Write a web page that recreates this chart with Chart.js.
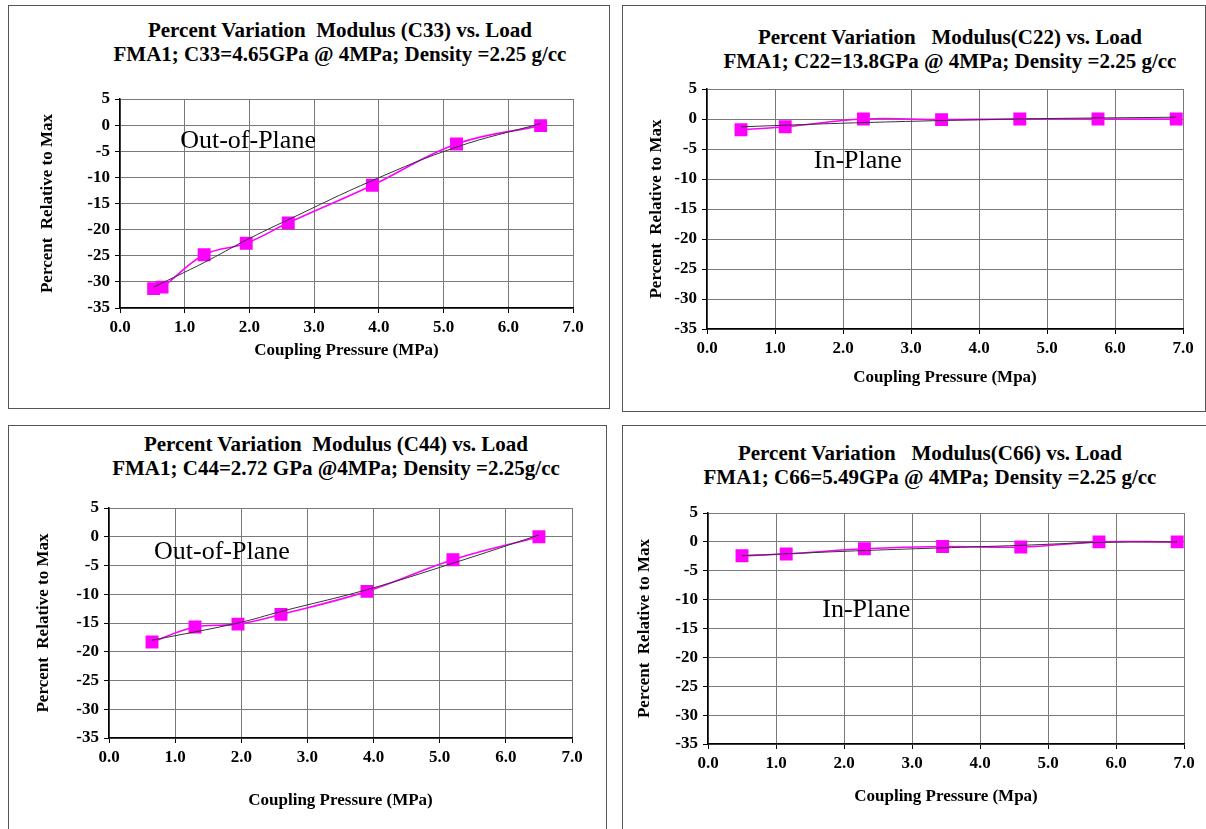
<!DOCTYPE html>
<html>
<head>
<meta charset="utf-8">
<script src="https://cdn.jsdelivr.net/npm/chart.js@4/dist/chart.umd.min.js"></script>
<style>
  html, body { margin: 0; padding: 0; background: #fff; }
  body { width: 1206px; height: 829px; position: relative; overflow: hidden; }
  .box { position: absolute; border: 1px solid #555; box-sizing: border-box; background: #fff; }
  .ttl { position: absolute; text-align: center; font-family: "Liberation Serif", "Times New Roman", serif; font-weight: bold; font-size: 21px; line-height: 24px; color: #000; white-space: nowrap; }
  canvas { position: absolute; }
</style>
</head>
<body>
<div class="box" style="left:8px;top:5px;width:602px;height:404px"></div>
<div class="box" style="left:622px;top:5px;width:584px;height:407px"></div>
<div class="box" style="left:8px;top:425px;width:599px;height:410px"></div>
<div class="box" style="left:622px;top:425px;width:590px;height:410px"></div>

<div class="ttl" style="left:40px;width:600px;top:18px">Percent Variation&nbsp; Modulus (C33) vs. Load<br>FMA1; C33=4.65GPa @ 4MPa; Density =2.25 g/cc</div>
<div class="ttl" style="left:650px;width:600px;top:25px">Percent Variation&nbsp;&nbsp; Modulus(C22) vs. Load<br>FMA1; C22=13.8GPa @ 4MPa; Density =2.25 g/cc</div>
<div class="ttl" style="left:36px;width:600px;top:432px">Percent Variation&nbsp; Modulus (C44) vs. Load<br>FMA1; C44=2.72 GPa @4MPa; Density =2.25g/cc</div>
<div class="ttl" style="left:630px;width:600px;top:441px">Percent Variation&nbsp;&nbsp; Modulus(C66) vs. Load<br>FMA1; C66=5.49GPa @ 4MPa; Density =2.25 g/cc</div>

<canvas id="c1"></canvas>
<canvas id="c2"></canvas>
<canvas id="c3"></canvas>
<canvas id="c4"></canvas>

<script>
// ---------- DATA ----------
const yTicks = [5, 0, -5, -10, -15, -20, -25, -30, -35];
const xTicks = [0, 1, 2, 3, 4, 5, 6, 7];

// C33 (out-of-plane)
const c33X = [0.52, 0.65, 1.30, 1.95, 2.60, 3.90, 5.20, 6.50];
const c33Y = [-31.3, -31.0, -24.8, -22.6, -18.7, -11.5, -3.6, -0.1];
const c33TrendX = [0.52, 1.30, 1.95, 2.60, 3.90, 5.20, 6.50];
const c33TrendY = [-31.0, -26.3, -22.0, -18.1, -10.6, -4.2, 0.3];

// C22 (in-plane)
const c22X = [0.50, 1.15, 2.30, 3.45, 4.60, 5.75, 6.90];
const c22Y = [-1.8, -1.3, 0.0, -0.1, 0.0, 0.0, 0.0];
const c22TrendX = [0.50, 2.30, 4.60, 6.90];
const c22TrendY = [-1.3, -0.6, 0.0, 0.3];

// C44 (out-of-plane)
const c44X = [0.65, 1.30, 1.95, 2.60, 3.90, 5.20, 6.50];
const c44Y = [-18.3, -15.7, -15.2, -13.5, -9.5, -4.0, 0.0];
const c44TrendX = [0.65, 1.95, 2.60, 3.90, 5.20, 6.50];
const c44TrendY = [-18.0, -15.0, -13.0, -9.2, -4.6, 0.3];

// C66 (in-plane)
const c66X = [0.50, 1.15, 2.30, 3.45, 4.60, 5.75, 6.90];
const c66Y = [-2.4, -2.1, -1.2, -0.8, -0.9, 0.0, 0.0];
const c66TrendX = [0.50, 2.30, 4.60, 5.75, 6.90];
const c66TrendY = [-2.4, -1.5, -0.6, -0.1, 0.0];

const xTitles = ["Coupling Pressure (MPa)", "Coupling Pressure (Mpa)", "Coupling Pressure (MPa)", "Coupling Pressure (Mpa)"];
const yTitle = "Percent  Relative to Max";
const notes = ["Out-of-Plane", "In-Plane", "Out-of-Plane", "In-Plane"];
const noteX = [0.93, 1.57, 0.68, 1.68];
const noteY = [-3.1, -7.0, -2.7, -11.8];

// ---------- LAYOUT ----------
const panels = [
  { id: 'c1', cx: 9,   cy: 6,   cw: 599, ch: 401, L: 120, R: 573,  T: 99,  B: 308, yTitleX: 48,  xTitleY: 351, xs: c33X, ys: c33Y, tx: c33TrendX, ty: c33TrendY },
  { id: 'c2', cx: 623, cy: 6,   cw: 582, ch: 404, L: 707, R: 1183, T: 89,  B: 329, yTitleX: 657, xTitleY: 378, xs: c22X, ys: c22Y, tx: c22TrendX, ty: c22TrendY },
  { id: 'c3', cx: 9,   cy: 426, cw: 597, ch: 403, L: 109, R: 572,  T: 508, B: 738, yTitleX: 44,  xTitleY: 801, xs: c44X, ys: c44Y, tx: c44TrendX, ty: c44TrendY },
  { id: 'c4', cx: 623, cy: 426, cw: 583, ch: 403, L: 708, R: 1184, T: 513, B: 744, yTitleX: 645, xTitleY: 797, xs: c66X, ys: c66Y, tx: c66TrendX, ty: c66TrendY }
];

const serif = "'Liberation Serif', 'Times New Roman', serif";

const notePlugin = {
  id: 'note',
  afterDatasetsDraw(chart, args, opts) {
    const { ctx, scales } = chart;
    const px = scales.x.getPixelForValue(opts.x);
    const py = scales.y.getPixelForValue(opts.y);
    ctx.save();
    ctx.font = "26px " + serif;
    ctx.fillStyle = '#000';
    ctx.textAlign = 'left';
    ctx.textBaseline = 'middle';
    ctx.fillText(opts.text, px, py);
    ctx.restore();
  }
};

panels.forEach((p, i) => {
  const cv = document.getElementById(p.id);
  cv.style.left = p.cx + 'px';
  cv.style.top = p.cy + 'px';
  cv.style.width = p.cw + 'px';
  cv.style.height = p.ch + 'px';
  cv.width = p.cw; cv.height = p.ch;

  const yW = p.L - p.cx;
  const xH = p.cy + p.ch - p.B;
  const titleFontSize = 17;
  const lh = titleFontSize * 1.2;
  const yPad = (p.yTitleX - p.cx) - lh / 2;
  const xPad = (p.cy + p.ch - p.xTitleY) - lh / 2;

  new Chart(cv, {
    type: 'line',
    data: {
      datasets: [
        {
          label: 'data',
          data: p.xs.map((x, k) => ({ x: x, y: p.ys[k] })),
          borderColor: '#FF00FF',
          backgroundColor: '#FF00FF',
          borderWidth: 1.6,
          pointStyle: 'rect',
          pointRadius: 8,
          pointHoverRadius: 8,
          tension: 0.4,
          order: 2
        },
        {
          label: 'trend',
          data: p.tx.map((x, k) => ({ x: x, y: p.ty[k] })),
          borderColor: '#333333',
          borderWidth: 1,
          pointRadius: 0,
          tension: 0.4,
          order: 1
        }
      ]
    },
    options: {
      responsive: false,
      animation: false,
      events: [],
      layout: { padding: { top: p.T - p.cy, right: p.cx + p.cw - p.R, left: 0, bottom: 0 } },
      plugins: {
        legend: { display: false },
        title: { display: false },
        tooltip: { enabled: false },
        note: { text: notes[i], x: noteX[i], y: noteY[i] }
      },
      scales: {
        x: {
          type: 'linear',
          min: 0, max: 7,
          afterFit: s => { s.height = xH; },
          afterBuildTicks: s => { s.ticks = xTicks.map(v => ({ value: v })); },
          ticks: {
            color: '#000',
            font: { family: serif, size: 17, weight: 'bold' },
            padding: 4,
            maxRotation: 0,
            callback: v => Number(v).toFixed(1)
          },
          grid: { color: '#7a7a7a', lineWidth: 1, tickLength: 5, tickColor: '#000' },
          border: { color: '#000', width: 1.5 },
          title: {
            display: true, text: xTitles[i], color: '#000',
            font: { family: serif, size: titleFontSize, weight: 'bold' },
            padding: { top: 0, bottom: xPad }
          }
        },
        y: {
          type: 'linear',
          min: -35, max: 5,
          afterFit: s => { s.width = yW; },
          afterBuildTicks: s => { s.ticks = yTicks.map(v => ({ value: v })); },
          ticks: {
            color: '#000',
            font: { family: serif, size: 17, weight: 'bold' },
            padding: 5
          },
          grid: { color: '#7a7a7a', lineWidth: 1, tickLength: 5, tickColor: '#000' },
          border: { color: '#000', width: 1.5 },
          title: {
            display: true, text: yTitle, color: '#000',
            font: { family: serif, size: titleFontSize, weight: 'bold' },
            padding: { top: yPad, bottom: 0 }
          }
        }
      }
    },
    plugins: [notePlugin]
  });
});
</script>
</body>
</html>
